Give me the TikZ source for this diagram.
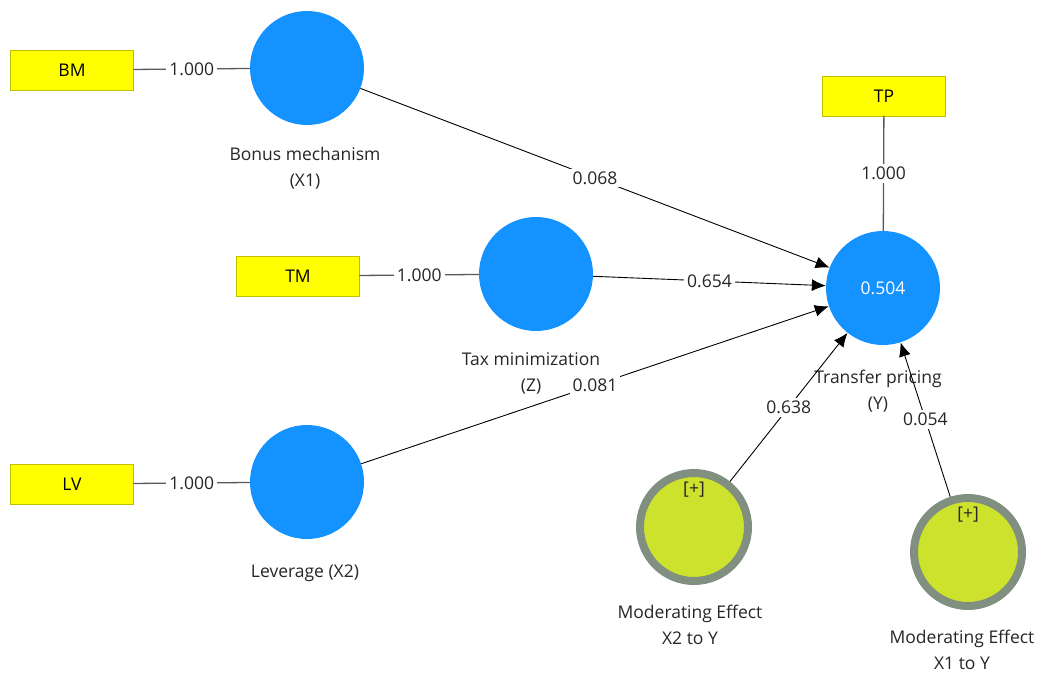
\documentclass[tikz,border=0pt]{standalone}
\usepackage{fontspec}
\setmainfont{Open Sans}
\usepackage{xcolor}
\definecolor{ColBlue}{RGB}{20,146,255}
\definecolor{ColYellow}{RGB}{255,255,0}
\definecolor{ColLime}{RGB}{205,226,45}
\definecolor{ColRing}{RGB}{128,143,127}
\usepackage{tikz}
\usetikzlibrary{shapes}
\usetikzlibrary{arrows.meta}
\newcommand{\DiagFont}{\fontsize{17.5}{26}\selectfont}
\tikzstyle{Indicator}=[rectangle,draw=ColYellow!75!black,fill=ColYellow,
minimum width=123pt,minimum height=40pt,inner sep=0pt,font=\DiagFont]
\tikzstyle{Construct}=[circle,fill=ColBlue,minimum size=114pt,inner sep=0pt,
text=white,font=\DiagFont]
\tikzstyle{Moderator}=[circle,draw=ColRing,line width=8pt,fill=ColLime,
minimum size=108pt,inner sep=0pt,
label={[anchor=north,yshift=-9pt,font=\DiagFont,text=black!85]north:{[+]}}]
\tikzstyle{Loading}=[draw=black!65,line width=1.3pt,cap=round]
\tikzstyle{Path}=[draw=black,line width=0.9pt,-{Latex[length=14pt,width=12pt]}]
\tikzstyle{Weight}=[fill=white,inner sep=3pt,font=\DiagFont,text=black!85]
\tikzstyle{NodeST}=[align=center,font=\DiagFont,text=black!85]

\begin{document}
\begin{tikzpicture}[x=1pt,y=-1pt]
        \useasboundingbox(0,0)rectangle(1046,674);
        \node[Indicator](BM)at(72,70){BM};
        \node[Indicator](TM)at(298,276){TM};
        \node[Indicator](LV)at(72,484){LV};
        \node[Indicator](TP)at(884,96){TP};
        \node[Construct](X1)at(307,68){};
        \node[Construct](Z)at(536,274){};
        \node[Construct](X2)at(307,482){};
        \node[Construct](Y)at(883,288){0.504};
        \node[Moderator](M2)at(694,527){};
        \node[Moderator](M1)at(968,552){};
        \node[NodeST](X1t)at(305,168){Bonus mechanism\\(X1)};
        \node[NodeST](Zt)at(531,373){Tax minimization\\(Z)};
        \node[NodeST](X2t)at(305,573){Leverage (X2)};
        \node[NodeST](Yt)at(878,391){Transfer pricing\\(Y)};
        \node[NodeST](M2t)at(690,625){Moderating Effect\\X2 to Y};
        \node[NodeST](M1t)at(962,650){Moderating Effect\\X1 to Y};
        \draw[Loading](BM)--node[Weight]{1.000}(X1);
        \draw[Loading](TM)--node[Weight]{1.000}(Z);
        \draw[Loading](LV)--node[Weight]{1.000}(X2);
        \draw[Loading](TP)--node[Weight]{1.000}(Y);
        \draw[Path](X1)--node[Weight]{0.068}(Y);
        \draw[Path](Z)--node[Weight]{0.654}(Y);
        \draw[Path](X2)--node[Weight]{0.081}(Y);
        \draw[Path](M2)--node[Weight]{0.638}(Y);
        \draw[Path](M1)--node[Weight]{0.054}(Y);
    \end{tikzpicture}
\end{document}
